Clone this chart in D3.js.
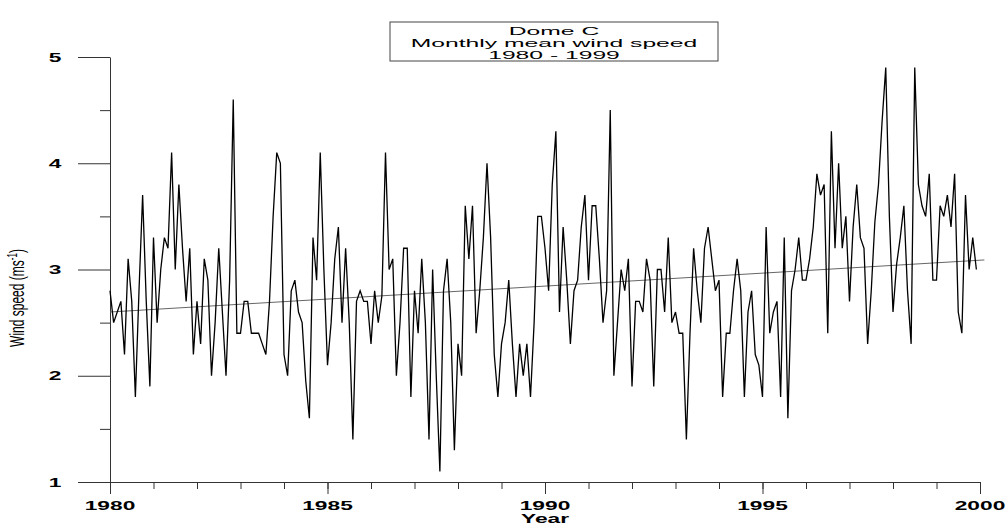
<!DOCTYPE html>
<html>
<head>
<meta charset="utf-8">
<script src="https://cdn.jsdelivr.net/npm/d3@7"></script>
<style>
  html, body { margin: 0; padding: 0; background: #fff; }
  svg { display: block; }
  text { font-family: "Liberation Sans", Arial, sans-serif; fill: #000; }
</style>
</head>
<body>
<svg id="chart" width="1007" height="529"></svg>
<script>
// ---- data (monthly means, Jan 1980 .. Dec 1999) ----
const startYear = 1980;
const wind1980 = [2.8, 2.5, 2.6, 2.7, 2.2, 3.1, 2.7, 1.8, 2.8, 3.7, 2.7, 1.9];
const wind1981 = [3.3, 2.5, 3.0, 3.3, 3.2, 4.1, 3.0, 3.8, 3.2, 2.7, 3.2, 2.2];
const wind1982 = [2.7, 2.3, 3.1, 2.9, 2.0, 2.5, 3.2, 2.6, 2.0, 2.9, 4.6, 2.4];
const wind1983 = [2.4, 2.7, 2.7, 2.4, 2.4, 2.4, 2.3, 2.2, 2.7, 3.5, 4.1, 4.0];
const wind1984 = [2.2, 2.0, 2.8, 2.9, 2.6, 2.5, 1.95, 1.6, 3.3, 2.9, 4.1, 3.0];
const wind1985 = [2.1, 2.5, 3.1, 3.4, 2.5, 3.2, 2.5, 1.4, 2.7, 2.8, 2.7, 2.7];
const wind1986 = [2.3, 2.8, 2.5, 2.75, 4.1, 3.0, 3.1, 2.0, 2.5, 3.2, 3.2, 1.8];
const wind1987 = [2.8, 2.4, 3.1, 2.5, 1.4, 3.0, 2.0, 1.1, 2.8, 3.1, 2.5, 1.3];
const wind1988 = [2.3, 2.0, 3.6, 3.1, 3.6, 2.4, 2.8, 3.3, 4.0, 3.3, 2.2, 1.8];
const wind1989 = [2.3, 2.5, 2.9, 2.3, 1.8, 2.3, 2.0, 2.3, 1.8, 2.5, 3.5, 3.5];
const wind1990 = [3.2, 2.8, 3.8, 4.3, 2.6, 3.4, 2.9, 2.3, 2.8, 2.9, 3.4, 3.7];
const wind1991 = [2.9, 3.6, 3.6, 3.1, 2.5, 2.8, 4.5, 2.0, 2.5, 3.0, 2.8, 3.1];
const wind1992 = [1.9, 2.7, 2.7, 2.6, 3.1, 2.9, 1.9, 3.0, 3.0, 2.6, 3.3, 2.5];
const wind1993 = [2.6, 2.4, 2.4, 1.4, 2.4, 3.2, 2.8, 2.5, 3.2, 3.4, 3.1, 2.8];
const wind1994 = [2.9, 1.8, 2.4, 2.4, 2.8, 3.1, 2.8, 1.8, 2.6, 2.8, 2.2, 2.1];
const wind1995 = [1.8, 3.4, 2.4, 2.6, 2.7, 1.8, 3.3, 1.6, 2.8, 3.0, 3.3, 2.9];
const wind1996 = [2.9, 3.1, 3.4, 3.9, 3.7, 3.8, 2.4, 4.3, 3.2, 4.0, 3.2, 3.5];
const wind1997 = [2.7, 3.4, 3.8, 3.3, 3.2, 2.3, 2.8, 3.45, 3.8, 4.4, 4.9, 3.5];
const wind1998 = [2.6, 3.05, 3.3, 3.6, 2.8, 2.3, 4.9, 3.8, 3.6, 3.5, 3.9, 2.9];
const wind1999 = [2.9, 3.6, 3.5, 3.7, 3.4, 3.9, 2.6, 2.4, 3.7, 3.0, 3.3, 3.0];

// linear trend line end points
const trendYears  = [1980, 2000.1];
const trendValues = [2.6, 3.09];

const xMajorTicks = [1980, 1985, 1990, 1995, 2000];
const xMinorTicks = d3.range(1980, 2001, 1);
const yMajorTicks = [1, 2, 3, 4, 5];
const yMinorTicks = [1.5, 2.5, 3.5, 4.5];

const titleLines = ["Dome C", "Monthly mean wind speed", "1980 - 1999"];
const xTitle = "Year";

// ---- assemble ----
const allYears = [wind1980, wind1981, wind1982, wind1983, wind1984, wind1985, wind1986,
  wind1987, wind1988, wind1989, wind1990, wind1991, wind1992, wind1993, wind1994,
  wind1995, wind1996, wind1997, wind1998, wind1999];
const series = [];
allYears.forEach((arr, yi) => arr.forEach((v, mi) => series.push({ t: startYear + yi + mi / 12, v })));

const svg = d3.select("#chart");
const x = d3.scaleLinear().domain([1980, 2000]).range([110, 980]);
const y = d3.scaleLinear().domain([1, 5]).range([482, 57]);
const SX = 1.75; // horizontal stretch of the original picture's lettering

// x axis (line + minor + major ticks)
const gx = svg.append("g").attr("transform", `translate(0,${y(1)})`);
gx.call(d3.axisBottom(x).tickValues(xMinorTicks).tickSize(7).tickSizeOuter(0).tickFormat(""));
const gx2 = svg.append("g").attr("transform", `translate(0,${y(1)})`);
gx2.call(d3.axisBottom(x).tickValues(xMajorTicks).tickSize(12).tickSizeOuter(0).tickFormat(""));
gx2.select(".domain").remove();

// y axis
const gy = svg.append("g").attr("transform", `translate(${x(1980)},0)`);
gy.call(d3.axisLeft(y).tickValues(yMinorTicks).tickSize(10).tickSizeOuter(0).tickFormat(""));
const gy2 = svg.append("g").attr("transform", `translate(${x(1980)},0)`);
gy2.call(d3.axisLeft(y).tickValues(yMajorTicks).tickSize(32).tickSizeOuter(0).tickFormat(""));
gy2.select(".domain").remove();

svg.selectAll(".domain, .tick line").attr("stroke", "#333").attr("stroke-width", 1);

// tick labels
svg.append("g").selectAll("text").data(xMajorTicks).join("text")
  .attr("transform", d => `translate(${x(d)},510) scale(${SX},1)`)
  .attr("text-anchor", "middle")
  .style("font-size", "13px").style("font-weight", "bold")
  .text(d => d);

svg.append("g").selectAll("text").data(yMajorTicks).join("text")
  .attr("transform", d => `translate(55,${y(d) + 4.5}) scale(${SX},1)`)
  .attr("text-anchor", "middle")
  .style("font-size", "13px").style("font-weight", "bold")
  .text(d => d);

// axis titles
svg.append("text")
  .attr("transform", `translate(545,523) scale(${SX},1)`)
  .attr("text-anchor", "middle")
  .style("font-size", "13px").style("font-weight", "bold")
  .text(xTitle);

const yl = svg.append("text")
  .attr("transform", `translate(24,298) scale(${SX},1) rotate(-90)`)
  .attr("text-anchor", "middle")
  .style("font-size", "12px");
yl.append("tspan").text("Wind speed (ms");
yl.append("tspan").attr("dy", -4).style("font-size", "8px").text("-1");
yl.append("tspan").attr("dy", 4).text(")");

// trend line
const line = d3.line().x(d => x(d[0])).y(d => y(d[1]));
svg.append("path")
  .datum(trendYears.map((t, i) => [t, trendValues[i]]))
  .attr("d", line)
  .attr("fill", "none").attr("stroke", "#666").attr("stroke-width", 1);

// data line
svg.append("path")
  .datum(series.map(d => [d.t, d.v]))
  .attr("d", line)
  .attr("fill", "none").attr("stroke", "#000").attr("stroke-width", 1.3)
  .attr("stroke-linejoin", "miter");

// title box
const tb = svg.append("g");
tb.append("rect").attr("x", 390).attr("y", 22).attr("width", 328).attr("height", 39)
  .attr("fill", "#fff").attr("stroke", "#444").attr("stroke-width", 1);
tb.selectAll("text").data(titleLines).join("text")
  .attr("transform", (d, i) => `translate(554,${35 + i * 12}) scale(2.35,1)`)
  .attr("text-anchor", "middle")
  .style("font-size", "10.5px")
  .text(d => d);
</script>
</body>
</html>
